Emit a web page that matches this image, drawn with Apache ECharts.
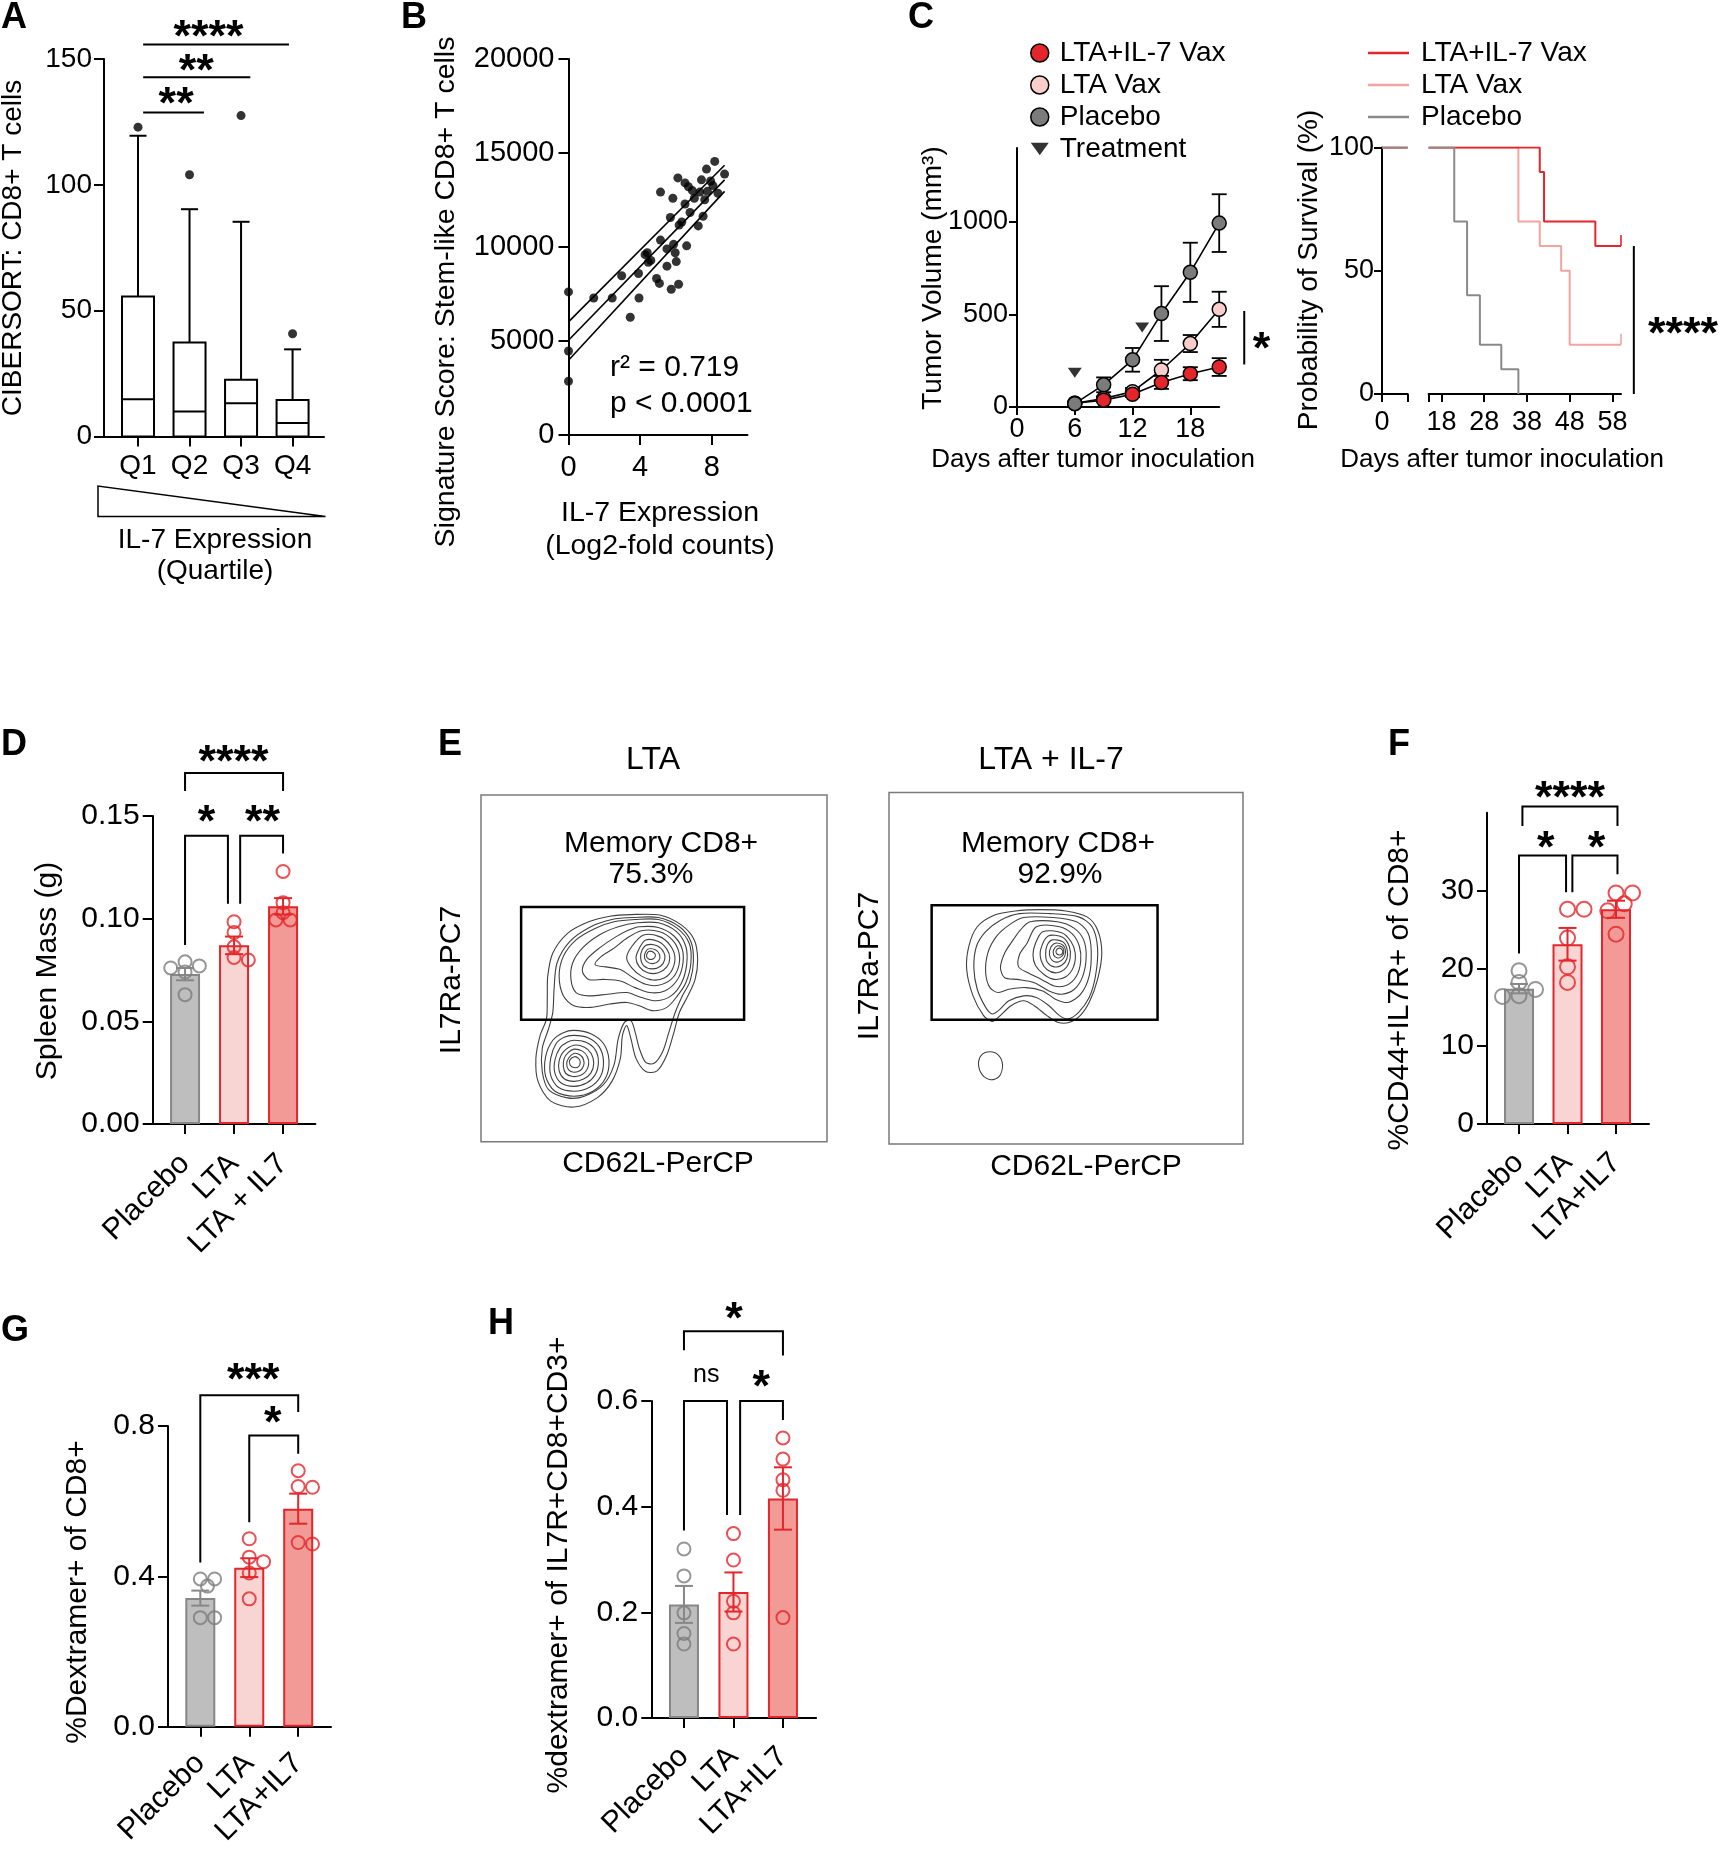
<!DOCTYPE html>
<html><head><meta charset="utf-8"><title>Figure</title>
<script src="https://cdn.jsdelivr.net/npm/echarts@6/dist/echarts.min.js"></script>
<style>html,body{margin:0;padding:0;background:#fff;}#chart{width:1729px;height:1849px;}</style>
</head><body><div id="chart"></div>
<script>
// ================= DATA =================
// ---- A: CIBERSORT CD8+ T cells by IL-7 quartile (box plots) ----
const quartileLabels = ['Q1','Q2','Q3','Q4'];
const boxMin = [0,0,0,0];
const boxLowerQ = [0,0,0,0];
const boxMedian = [14.8,9.9,13.2,5.3];
const boxUpperQ = [55.6,37.3,22.5,14.5];
const boxMax = [119.5,90.3,85.3,34.6];
const boxOutlier = [122.9,104,127.5,40.8];
const aSigLines = [[1.1,2.28,128.7],[1.1,3.18,142.7],[1.1,3.93,155.8]]; // x from, x to, y
const aSigText = ['**','**','****'];
const aSigTextPos = [[1.74,135.5],[2.13,148.5],[2.37,162.2]];

// ---- B: signature score vs IL-7 expression ----
const il7Expression = [0,0,0,1.41,2.44,2.97,3.45,3.91,3.94,4.28,4.40,4.46,4.60,4.92,5.08,5.14,5.14,5.50,5.50,5.69,5.74,5.83,5.87,5.96,6.02,6.11,6.15,6.18,6.33,6.51,6.51,6.60,6.70,6.79,6.92,7.03,7.25,7.34,7.43,7.52,7.61,7.71,7.76,7.94,8.07,8.17,8.35,8.72];
const stemScore = [7613,4470,2857,7286,7286,8470,6265,8592,7286,9592,9694,9184,9286,8327,8062,12919,10368,8980,9898,11572,7755,12593,10143,9694,9225,13674,8021,11164,11327,13409,12287,10062,13205,11837,13001,12593,11123,12919,13572,11633,12511,14144,12960,13511,13266,14552,12858,13878];
const fitX = [0,8.72];
const fitY = [5041,13572];
const ciUpperY = [6020,14350];
const ciLowerY = [3980,12960];
const bStats = ['r\u00b2 = 0.719','p < 0.0001'];

// ---- C: tumor growth and survival ----
const tumorDays = [6,9,12,15,18,21];
const volLtaIl7 = [20,37,69,133,180,216];
const semLtaIl7 = [0,10,15,35,35,48];
const volLta = [20,46,83,200,343,528];
const semLta = [0,10,20,55,46,95];
const volPlacebo = [18,120,255,505,728,994];
const semPlacebo = [0,40,64,148,160,156];
const treatmentDay = [6,13];
const treatmentMark = [185,430];
const survDaysLtaIl7 = [15,41,42,54,60];
const survLtaIl7 = [100,90,70,60,60];
const survDaysLta = [15,36,41,46,48,60];
const survLta = [100,70,60,50,20,20];
const survDaysPlacebo = [15,21,24,27,32,36];
const survPlacebo = [100,70,40,20,10,0];
const cSigLine = [23.6,230,519];   // x, y from, y to
const cSigStar = [25.4,357];
const sSigLine = [63,0,60];
const sSigStar = [74.5,27.6];

// ---- D: spleen mass ----
const groupLabelsD = ['Placebo','LTA','LTA + IL7'];
const spleenMean = [0.073,0.087,0.106];
const spleenSem = [0.003,0.0043,0.004];
const spleenPlacebo = [0.079,0.077,0.076,0.074,0.063];
const spleenLta = [0.0985,0.0933,0.0863,0.0811,0.0799];
const spleenLtaIl7 = [0.123,0.1078,0.1029,0.0994,0.0994];
const dBrackets = [[1,0.0872,1.875,0.1073,0.1404],[2.125,0.1073,3,0.1317,0.1404],[1,0.1622,3,0.1622,0.1709]];
const dStars = ['*','**','****'];
const dStarPos = [[1.44,0.1509],[2.58,0.1509],[1.99,0.1805]];

// ---- E: flow cytometry contours (arbitrary fluorescence units, IL7Ra axis increases downward in these units) ----
const ltaGate = [50,80,578,423];
const ltaIl7Gate = [1022,75,1557,423];
const ltaContours = [
 [[310,103],[380,105],[430,135],[460,180],[468,240],[462,300],[445,350],[425,400],[412,460],[395,530],[372,578],[345,580],[322,540],[310,480],[300,440],[290,470],[285,540],[265,610],[230,660],[175,688],[120,670],[90,610],[85,540],[95,470],[110,420],[112,350],[113,290],[125,220],[160,160],[210,125],[260,108]],
 [[315,112],[375,112],[425,140],[452,185],[458,245],[450,305],[432,350],[415,400],[400,460],[385,520],[365,555],[345,552],[330,510],[320,460],[310,425],[295,430],[280,480],[270,560],[245,620],[200,655],[160,660],[115,635],[100,580],[100,510],[115,450],[125,400],[128,330],[135,250],[165,185],[215,140],[265,118]],
 [[320,118],[375,118],[420,145],[448,190],[452,250],[440,310],[420,350],[395,385],[360,395],[330,380],[300,370],[260,375],[215,385],[175,380],[150,350],[140,290],[150,230],[180,180],[225,145],[270,125]],
 [[325,128],[375,128],[418,155],[440,200],[442,255],[430,310],[405,350],[370,365],[335,355],[300,340],[255,345],[210,350],[180,340],[168,300],[172,250],[195,205],[235,165],[280,140]],
 [[330,140],[375,142],[412,168],[432,210],[432,260],[418,305],[390,335],[355,340],[320,325],[285,305],[245,300],[210,300],[195,275],[205,240],[235,205],[275,170],[305,150]],
 [[335,152],[378,155],[408,180],[424,220],[422,265],[405,300],[375,318],[345,315],[315,295],[285,270],[250,262],[225,255],[240,230],[270,205],[300,175]],
 [[340,165],[378,170],[402,195],[414,230],[408,270],[390,295],[362,302],[335,290],[312,265],[300,235],[312,200]],
 [[345,180],[375,185],[395,208],[402,235],[395,262],[375,280],[350,280],[330,262],[322,235],[330,205]],
 [[348,195],[372,198],[388,218],[390,240],[380,260],[360,268],[340,258],[333,235],[336,212]],
 [[350,208],[368,210],[378,225],[376,243],[362,252],[347,245],[342,228]],
 [[352,215],[364,218],[368,228],[362,238],[352,238],[347,228]],
 [[175,455],[215,465],[245,495],[258,545],[250,600],[220,640],[175,655],[130,640],[108,595],[108,535],[125,485],[150,462]],
 [[175,470],[210,478],[235,505],[245,548],[238,595],[212,628],[175,640],[138,628],[120,592],[120,540],[133,495],[152,476]],
 [[175,485],[205,492],[226,515],[233,550],[226,588],[205,615],[175,625],[145,615],[130,585],[130,545],[142,508],[158,492]],
 [[175,500],[200,506],[216,525],[222,555],[215,585],[198,603],[175,610],[152,602],[140,578],[140,548],[150,520]],
 [[175,512],[195,518],[207,535],[210,558],[203,580],[190,592],[172,595],[156,586],[150,565],[152,540],[162,522]],
 [[175,525],[190,530],[198,545],[198,562],[190,577],[175,582],[162,574],[158,556],[163,538]],
 [[176,535],[186,540],[190,552],[186,565],[175,568],[166,560],[165,546]]
];
const ltaIl7Contours = [
 [[1220,92],[1280,88],[1340,92],[1390,110],[1415,150],[1425,220],[1415,300],[1395,370],[1370,415],[1345,432],[1320,430],[1295,410],[1265,380],[1240,365],[1210,380],[1180,415],[1165,428],[1145,410],[1120,350],[1105,270],[1110,200],[1130,140],[1170,105]],
 [[1230,100],[1300,100],[1370,110],[1402,140],[1415,205],[1410,290],[1395,355],[1370,400],[1345,420],[1325,410],[1300,380],[1270,355],[1240,350],[1205,365],[1180,395],[1165,405],[1150,385],[1130,330],[1122,265],[1128,200],[1150,155],[1185,120]],
 [[1240,112],[1310,112],[1365,125],[1392,158],[1400,215],[1395,290],[1375,345],[1345,370],[1315,360],[1285,335],[1245,325],[1205,330],[1180,340],[1160,325],[1150,280],[1155,220],[1175,170],[1205,135]],
 [[1255,125],[1320,125],[1360,145],[1382,180],[1388,230],[1380,290],[1360,330],[1330,345],[1300,335],[1265,310],[1225,300],[1195,295],[1185,265],[1195,220],[1215,180],[1232,150]],
 [[1270,140],[1325,140],[1355,162],[1372,200],[1375,245],[1365,290],[1342,318],[1312,320],[1282,300],[1250,280],[1228,262],[1230,225],[1248,190]],
 [[1285,155],[1330,158],[1352,185],[1362,220],[1358,262],[1340,292],[1312,300],[1288,285],[1268,258],[1262,225],[1268,190]],
 [[1298,168],[1332,172],[1348,200],[1350,235],[1340,265],[1318,280],[1295,270],[1282,245],[1280,210]],
 [[1308,180],[1333,186],[1343,210],[1342,238],[1330,257],[1312,262],[1296,248],[1292,222],[1296,195]],
 [[1315,190],[1333,196],[1339,215],[1335,235],[1322,247],[1308,243],[1301,225],[1304,203]],
 [[1320,198],[1332,203],[1335,218],[1330,230],[1320,235],[1311,226],[1311,210]],
 [[1324,205],[1331,210],[1332,220],[1326,226],[1318,222],[1317,212]],
 [[1160,520],[1180,530],[1190,560],[1182,595],[1162,605],[1142,590],[1133,558],[1140,530]]
];
const flowStats = ['Memory CD8+','75.3%','Memory CD8+','92.9%'];

// ---- F: %CD44+IL7R+ of CD8+ ----
const groupLabels = ['Placebo','LTA','LTA+IL7'];
const fMean = [17.4,23.1,27.6];
const fSem = [0.6,2.1,1.1];
const fPlacebo = [19.7,18.2,17.3,16.4,16.5];
const fLta = [27.6,27.6,23.9,20.2,18.2];
const fLtaIl7 = [29.7,29.7,28.3,27.4,24.4];
const fBrackets = [[1.07,38.3,3.03,38.3,40.8],[1,21.9,1.97,29.8,34.5],[2.1,29.8,3.03,32.1,34.5]];
const fStars = ['****','*','*'];
const fStarPos = [[2.05,43],[1.55,36.6],[2.6,36.6]];

// ---- G: %Dextramer+ of CD8+ ----
const gMean = [0.342,0.423,0.58];
const gSem = [0.02,0.025,0.04];
const gPlacebo = [0.393,0.393,0.374,0.29,0.29];
const gLta = [0.5,0.451,0.439,0.409,0.34];
const gLtaIl7 = [0.681,0.639,0.637,0.49,0.486];
const gBrackets = [[1,0.437,3,0.837,0.882],[2,0.544,3,0.726,0.775]];
const gStars = ['***','*'];
const gStarPos = [[2.08,0.944],[2.48,0.83]];

// ---- H: %dextramer+ of IL7R+CD8+CD3+ ----
const hMean = [0.215,0.2385,0.4155];
const hSem = [0.035,0.037,0.059];
const hPlacebo = [0.32,0.269,0.199,0.16,0.14];
const hLta = [0.349,0.299,0.221,0.199,0.14];
const hLtaIl7 = [0.53,0.49,0.451,0.431,0.19];
const hBrackets = [[1,0.696,3,0.686,0.732],[1,0.355,1.87,0.384,0.6],[2.135,0.384,3,0.564,0.6]];
const hStars = ['*','ns','*'];
const hStarPos = [[2.01,0.77],[1.45,0.649],[2.56,0.642]];

// ================= LAYOUT / STYLE =================
const FONT = '"Liberation Sans", Arial, Helvetica, sans-serif';
const RED = '#e4252b', PINK = '#f9cdca', GRAYM = '#7b7b7b';
const BAR_FILL = ['#bebebe','#f8d5d3','#f29b96'];
const BAR_STROKE = ['#878787','#e4252b','#e4252b'];
const SURV = {red:'#e4252b', pink:'#f5a3a0', gray:'#8a8a8a'};

const P = {
 A:{gi:0, grid:{left:104,top:59,width:220,height:377.4}, x:[0.34,4.61], y:[0,150]},
 B:{gi:1, grid:{left:568.5,top:59,width:179,height:376}, x:[0,10], y:[0,20000]},
 C:{gi:2, grid:{left:1017,top:148,width:202.2,height:259}, x:[0,21], y:[0,1400]},
 S1:{gi:3, grid:{left:1382,top:147.4,width:25.6,height:246.6}, x:[0,6], y:[0,100]},
 S2:{gi:4, grid:{left:1428.6,top:147.4,width:192.4,height:246.6}, x:[15,60], y:[0,100]},
 D:{gi:5, grid:{left:152.7,top:816,width:162.7,height:308}, x:[0.34,3.66], y:[0,0.15]},
 EL:{gi:6, grid:{left:481,top:795,width:346,height:346.7}, x:[-45,774.3], y:[-260.5,793.3]},
 ER:{gi:7, grid:{left:889,top:792.5,width:354,height:351.5}, x:[921,1759.4], y:[-268,800.3]},
 F:{gi:8, grid:{left:1487,top:812.8,width:162,height:311.2}, x:[0.34,3.68], y:[0,40]},
 G:{gi:9, grid:{left:168,top:1426,width:163,height:306.5}, x:[0.34,3.67], y:[0,0.8]},
 H:{gi:10, grid:{left:651.3,top:1401,width:164.8,height:317}, x:[0.34,3.67], y:[0,0.6]}
};
const order = ['A','B','C','S1','S2','D','EL','ER','F','G','H'];

function axis(p, range, o) {
  o = o || {};
  const ticks = o.ticks || [];
  return {
    type:'value', gridIndex:p.gi, min:range[0], max:range[1], inverse:!!o.inverse, show:o.show !== false,
    axisLine:{show:o.line !== false, onZero:false, lineStyle:{color:'#000', width:2}},
    axisTick:{show:ticks.length>0, customValues:o.tickValues || ticks, length:o.tl || 10, inside:false, lineStyle:{color:'#000', width:2}},
    axisLabel:{show:ticks.length>0, customValues:o.labelValues || ticks, formatter:o.fmt || (v=>String(v)), fontSize:o.fs || 30, fontFamily:FONT, color:'#000', margin:o.margin == null ? 12 : o.margin, rotate:o.rotate || 0, hideOverlap:false},
    splitLine:{show:false}
  };
}

const grids = order.map(k => Object.assign({}, P[k].grid, k==='EL'||k==='ER' ? {show:true, borderColor:'#7a7a7a', borderWidth:1.5, backgroundColor:'transparent'} : {}));
const catFmt = arr => (v => arr[Math.round(v)-1]);

const xAxes = [
  axis(P.A, P.A.x, {ticks:[1,2,3,4], fmt:catFmt(quartileLabels), fs:28, margin:16}),
  axis(P.B, P.B.x, {ticks:[0,4,8], fs:29, margin:18}),
  axis(P.C, P.C.x, {ticks:[0,6,12,18], fs:27, margin:9, tl:8}),
  axis(P.S1, P.S1.x, {ticks:[0], tickValues:[0,6], fs:27, margin:15, tl:8}),
  axis(P.S2, P.S2.x, {ticks:[18,28,38,48,58], tickValues:[15,18,28,38,48,58], fs:27, margin:15, tl:8}),
  axis(P.D, P.D.x, {ticks:[1,2,3], fmt:catFmt(groupLabelsD), fs:30, margin:35, rotate:45}),
  axis(P.EL, P.EL.x, {show:false}),
  axis(P.ER, P.ER.x, {show:false}),
  axis(P.F, P.F.x, {ticks:[1,2,3], fmt:catFmt(groupLabels), fs:30, margin:34, rotate:45}),
  axis(P.G, P.G.x, {ticks:[1,2,3], fmt:catFmt(groupLabels), fs:30, margin:32, rotate:45}),
  axis(P.H, P.H.x, {ticks:[1,2,3], fmt:catFmt(groupLabels), fs:30, margin:34, rotate:45})
];
const yAxes = [
  axis(P.A, P.A.y, {ticks:[0,50,100,150], fs:28, margin:12}),
  axis(P.B, P.B.y, {ticks:[0,5000,10000,15000,20000], fs:29, margin:14}),
  axis(P.C, P.C.y, {ticks:[0,500,1000], fs:27, margin:9, tl:8}),
  axis(P.S1, P.S1.y, {ticks:[0,50,100], fs:27, margin:8, tl:8}),
  axis(P.S2, P.S2.y, {show:false}),
  axis(P.D, P.D.y, {ticks:[0,0.05,0.1,0.15], fmt:v=>v.toFixed(2), fs:30, margin:13}),
  axis(P.EL, P.EL.y, {show:false, inverse:true}),
  axis(P.ER, P.ER.y, {show:false, inverse:true}),
  axis(P.F, P.F.y, {ticks:[0,10,20,30], fs:30, margin:13}),
  axis(P.G, P.G.y, {ticks:[0,0.4,0.8], fmt:v=>v.toFixed(1), fs:30, margin:13}),
  axis(P.H, P.H.y, {ticks:[0,0.2,0.4,0.6], fmt:v=>v.toFixed(1), fs:30, margin:13})
];

// ================= HELPERS =================
function ax(p){ return {xAxisIndex:p.gi, yAxisIndex:p.gi}; }
function starText(t, c, size){
  const star = t.indexOf('*') >= 0;
  const fs = star ? (size || 45) : 25;
  return {type:'text', x:c[0], y:c[1] + (star ? 0.22*fs : 0), style:{text:t, fontSize:fs, fontWeight:star?'bold':'normal', fontFamily:FONT, fill:'#000', align:'center', verticalAlign:'middle'}};
}
function starSeries(p, texts, pos){
  return Object.assign({type:'custom', silent:true, z:8, data:pos.map((q,i)=>[q[0],q[1],i]),
    renderItem(pp, api){ return starText(texts[api.value(2)], api.coord([api.value(0), api.value(1)])); }}, ax(p));
}
function bracketSeries(p, br){
  return Object.assign({type:'custom', silent:true, z:7, data:br,
    renderItem(pp, api){
      const a=api.coord([api.value(0),api.value(1)]), b=api.coord([api.value(0),api.value(4)]),
            c=api.coord([api.value(2),api.value(4)]), d=api.coord([api.value(2),api.value(3)]);
      return {type:'polyline', shape:{points:[a,b,c,d]}, style:{stroke:'#000', lineWidth:2, fill:'none'}};
    }}, ax(p));
}
function errorSeries(p, rows, colors, capHalf, lw, z){
  return Object.assign({type:'custom', silent:true, z:z||5, data:rows,
    renderItem(pp, api){
      const x=api.value(0), m=api.value(1), s=api.value(2), col=colors[api.value(3)];
      if (!(s > 0)) return null;
      const t=api.coord([x,m+s]), b=api.coord([x,m-s]);
      const st={stroke:col, lineWidth:lw||2};
      return {type:'group', children:[
        {type:'line', shape:{x1:t[0],y1:t[1],x2:b[0],y2:b[1]}, style:st},
        {type:'line', shape:{x1:t[0]-capHalf,y1:t[1],x2:t[0]+capHalf,y2:t[1]}, style:st},
        {type:'line', shape:{x1:b[0]-capHalf,y1:b[1],x2:b[0]+capHalf,y2:b[1]}, style:st}]};
    }}, ax(p));
}
function vlineSeries(p, line){
  return Object.assign({type:'custom', silent:true, z:7, data:[line],
    renderItem(pp, api){
      const a=api.coord([api.value(0),api.value(1)]), b=api.coord([api.value(0),api.value(2)]);
      return {type:'line', shape:{x1:a[0],y1:a[1],x2:b[0],y2:b[1]}, style:{stroke:'#000', lineWidth:2}};
    }}, ax(p));
}
// beeswarm placement (layout only): spreads points that would overlap too much
function swarm(p, values, center, diam){
  const pxX = p.grid.width/(p.x[1]-p.x[0]), pxY = p.grid.height/(p.y[1]-p.y[0]);
  const placed = [], out = [];
  const idx = values.map((v,i)=>i).sort((a,b)=>values[b]-values[a]);
  idx.forEach(i=>{
    const ypx = values[i]*pxY; let off = 0;
    for (let k=0;k<30;k++){
      const o = (k===0?0:(k%2?1:-1)*Math.ceil(k/2))*diam*0.55;
      if (placed.every(q=>Math.hypot(q[0]-o,q[1]-ypx) >= diam*0.75)) { off=o; break; }
    }
    placed.push([off,ypx]); out[i] = [center + off/pxX, values[i]];
  });
  return out;
}
function barPanel(p, means, sems, groups, brackets, stars, starPos, diam){
  const s = [];
  s.push(Object.assign({type:'bar', barWidth:30, z:2, silent:true,
    data:means.map((m,i)=>({value:[i+1,m], itemStyle:{color:BAR_FILL[i], borderColor:BAR_STROKE[i], borderWidth:2}}))}, ax(p)));
  const pts = [];
  groups.forEach((g,gi)=>{ swarm(p, g, gi+1, diam).forEach(q=>pts.push({value:q, itemStyle:{color:'rgba(0,0,0,0)', borderColor:gi===0?'#7d7d7d':RED, borderWidth:2}})); });
  s.push(Object.assign({type:'scatter', symbol:'circle', symbolSize:diam, z:4, silent:true, data:pts}, ax(p)));
  s.push(errorSeries(p, means.map((m,i)=>[i+1,m,sems[i],i]), BAR_STROKE, 9, 2, 5));
  s.push(bracketSeries(p, brackets));
  s.push(starSeries(p, stars, starPos));
  return s;
}
function contourSeries(p, rings){
  return Object.assign({type:'custom', silent:true, z:3, data:rings.map((r,i)=>[r[0][0], r[0][1], i]),
    renderItem(pp, api){
      const pts = rings[api.value(2)].map(q=>api.coord(q));
      return {type:'polygon', shape:{points:pts, smooth:0.3}, style:{fill:'none', stroke:'#404040', lineWidth:1.1}};
    }}, ax(p));
}
function gateSeries(p, gate){
  return Object.assign({type:'custom', silent:true, z:4, data:[gate],
    renderItem(pp, api){
      const a=api.coord([api.value(0),api.value(1)]), b=api.coord([api.value(2),api.value(3)]);
      return {type:'rect', shape:{x:Math.min(a[0],b[0]), y:Math.min(a[1],b[1]), width:Math.abs(b[0]-a[0]), height:Math.abs(b[1]-a[1])}, style:{fill:'none', stroke:'#000', lineWidth:2.5}};
    }}, ax(p));
}

// ================= SERIES =================
const series = [];
// A: boxes
series.push(Object.assign({type:'custom', silent:true, z:3,
  data:quartileLabels.map((q,i)=>[i+1, boxMin[i], boxLowerQ[i], boxMedian[i], boxUpperQ[i], boxMax[i]]),
  renderItem(pp, api){
    const x=api.value(0); const c=v=>api.coord([x,v]);
    const pmn=c(api.value(1)), pq1=c(api.value(2)), pmd=c(api.value(3)), pq3=c(api.value(4)), pmx=c(api.value(5));
    const hw=16, cw=8.5, st={stroke:'#000', lineWidth:2};
    return {type:'group', children:[
      {type:'line', shape:{x1:pq3[0],y1:pq3[1],x2:pmx[0],y2:pmx[1]}, style:st},
      {type:'line', shape:{x1:pmx[0]-cw,y1:pmx[1],x2:pmx[0]+cw,y2:pmx[1]}, style:st},
      {type:'line', shape:{x1:pq1[0],y1:pq1[1],x2:pmn[0],y2:pmn[1]}, style:st},
      {type:'rect', shape:{x:pq3[0]-hw, y:pq3[1], width:2*hw, height:pq1[1]-pq3[1]}, style:{fill:'#fff', stroke:'#000', lineWidth:2}},
      {type:'line', shape:{x1:pmd[0]-hw,y1:pmd[1],x2:pmd[0]+hw,y2:pmd[1]}, style:st}]};
  }}, ax(P.A)));
series.push(Object.assign({type:'scatter', symbol:'circle', symbolSize:9, silent:true, itemStyle:{color:'#000'},
  data:boxOutlier.map((v,i)=>[i+1,v])}, ax(P.A)));
series.push(Object.assign({type:'custom', silent:true, z:7, data:aSigLines,
  renderItem(pp, api){ const a=api.coord([api.value(0),api.value(2)]), b=api.coord([api.value(1),api.value(2)]);
    return {type:'line', shape:{x1:a[0],y1:a[1],x2:b[0],y2:b[1]}, style:{stroke:'#000', lineWidth:2}}; }}, ax(P.A)));
series.push(starSeries(P.A, aSigText, aSigTextPos));

// B
series.push(Object.assign({type:'scatter', symbol:'circle', symbolSize:9, silent:true, itemStyle:{color:'#000'},
  data:il7Expression.map((x,i)=>[x, stemScore[i]])}, ax(P.B)));
[fitY, ciUpperY, ciLowerY].forEach(ys=>{
  series.push(Object.assign({type:'line', symbol:'none', silent:true, lineStyle:{color:'#000', width:1.6},
    data:fitX.map((x,i)=>[x, ys[i]])}, ax(P.B)));
});

// C left: tumor volume
series.push(errorSeries(P.C, [].concat(
  tumorDays.map((d,i)=>[d, volLta[i], semLta[i], 0]),
  tumorDays.map((d,i)=>[d, volLtaIl7[i], semLtaIl7[i], 0]),
  tumorDays.map((d,i)=>[d, volPlacebo[i], semPlacebo[i], 0])), ['#000'], 7.5, 1.8, 3));
const growth = [['LTA Vax', volLta, PINK, 4], ['LTA+IL-7 Vax', volLtaIl7, RED, 5], ['Placebo', volPlacebo, GRAYM, 6]];
growth.forEach(g=>{
  series.push(Object.assign({type:'line', name:g[0], symbol:'circle', symbolSize:14, z:g[3], silent:true,
    itemStyle:{color:g[2], borderColor:'#000', borderWidth:1.5}, lineStyle:{color:'#000', width:1.6},
    data:tumorDays.map((d,i)=>[d, g[1][i]])}, ax(P.C)));
});
series.push(Object.assign({type:'scatter', name:'Treatment', symbol:'triangle', symbolRotate:180, symbolSize:[14,10], silent:true, z:6,
  itemStyle:{color:'#000'}, data:treatmentDay.map((d,i)=>[d, treatmentMark[i]])}, ax(P.C)));
series.push(vlineSeries(P.C, cSigLine));
series.push(starSeries(P.C, ['*'], [cSigStar]));

// C right: survival (broken x axis)
const surv = [['S LTA Vax', survDaysLta, survLta, SURV.pink, 3], ['S LTA+IL-7 Vax', survDaysLtaIl7, survLtaIl7, SURV.red, 4], ['S Placebo', survDaysPlacebo, survPlacebo, SURV.gray, 5]];
surv.forEach(s=>{
  series.push(Object.assign({type:'line', symbol:'none', silent:true, z:s[4], lineStyle:{color:s[3], width:2},
    data:[[P.S1.x[0], s[2][0]],[P.S1.x[1], s[2][0]]]}, ax(P.S1)));
  series.push(Object.assign({type:'line', name:s[0], step:'end', symbol:'none', silent:true, z:s[4], color:s[3],
    itemStyle:{color:s[3]}, lineStyle:{color:s[3], width:2},
    data:s[1].map((d,i)=>[d, s[2][i]])}, ax(P.S2)));
});
series.push(Object.assign({type:'scatter', symbol:'rect', symbolSize:[2,11], symbolOffset:[0,-5.5], silent:true, z:6,
  data:[{value:[survDaysLtaIl7[survDaysLtaIl7.length-1], survLtaIl7[survLtaIl7.length-1]], itemStyle:{color:SURV.red}},
        {value:[survDaysLta[survDaysLta.length-1], survLta[survLta.length-1]], itemStyle:{color:SURV.pink}}]}, ax(P.S2)));
series.push(vlineSeries(P.S2, sSigLine));
series.push(starSeries(P.S2, ['****'], [sSigStar]));

// D
barPanel(P.D, spleenMean, spleenSem, [spleenPlacebo, spleenLta, spleenLtaIl7], dBrackets, dStars, dStarPos, 13).forEach(s=>series.push(s));
// E
series.push(contourSeries(P.EL, ltaContours));
series.push(gateSeries(P.EL, ltaGate));
series.push(contourSeries(P.ER, ltaIl7Contours));
series.push(gateSeries(P.ER, ltaIl7Gate));
// F, G, H
barPanel(P.F, fMean, fSem, [fPlacebo, fLta, fLtaIl7], fBrackets, fStars, fStarPos, 15).forEach(s=>series.push(s));
barPanel(P.G, gMean, gSem, [gPlacebo, gLta, gLtaIl7], gBrackets, gStars, gStarPos, 13).forEach(s=>series.push(s));
barPanel(P.H, hMean, hSem, [hPlacebo, hLta, hLtaIl7], hBrackets, hStars, hStarPos, 13).forEach(s=>series.push(s));

// ================= TEXT / DECORATION =================
function T(text, x, y, fs, o){
  o = o || {};
  return {type:'text', x:x, y:y, rotation:o.rot ? Math.PI/2 : 0, silent:true,
    style:{text:text, fontSize:fs, fontFamily:FONT, fontWeight:o.bold?'bold':'normal', fill:'#000', align:o.align||'center', verticalAlign:'middle'}};
}
const graphic = [
  T('A', 14, 18, 36, {bold:true}), T('B', 414, 18, 36, {bold:true}), T('C', 921, 18, 36, {bold:true}),
  T('D', 14, 745, 36, {bold:true}), T('E', 450, 745, 36, {bold:true}), T('F', 1399, 745, 36, {bold:true}),
  T('G', 15, 1331, 36, {bold:true}), T('H', 501, 1324, 36, {bold:true}),
  T('CIBERSORT: CD8+ T cells', 13, 248, 28, {rot:true}),
  {type:'polygon', silent:true, shape:{points:[[98,486],[98,516.6],[325.5,516.6]]}, style:{fill:'#fff', stroke:'#000', lineWidth:1.5}},
  T('IL-7 Expression', 215, 540, 28), T('(Quartile)', 215, 571, 28),
  T('Signature Score: Stem-like CD8+ T cells', 446, 292, 28.5, {rot:true}),
  T('IL-7 Expression', 660, 513, 28.5), T('(Log2-fold counts)', 660, 546, 28.5),
  T(bStats[0], 610, 368, 30, {align:'left'}), T(bStats[1], 610, 404, 30, {align:'left'}),
  T('Tumor Volume (mm\u00b3)', 933, 278, 28, {rot:true}),
  T('Probability of Survival (%)', 1309, 270, 28, {rot:true}),
  T('Days after tumor inoculation', 1093, 460, 26), T('Days after tumor inoculation', 1502, 460, 26),
  T('Spleen Mass (g)', 48, 971, 30, {rot:true}),
  T('LTA', 653, 760, 32), T('LTA + IL-7', 1051, 760, 32),
  T(flowStats[0], 661, 844, 30), T(flowStats[1], 651, 875, 30),
  T(flowStats[2], 1058, 844, 30), T(flowStats[3], 1060, 875, 30),
  T('CD62L-PerCP', 658, 1164, 30), T('CD62L-PerCP', 1086, 1167, 30),
  T('IL7Ra-PC7', 452, 980, 30, {rot:true}), T('IL7Ra-PC7', 870, 966, 30, {rot:true}),
  T('%CD44+IL7R+ of CD8+', 1400, 990, 30, {rot:true}),
  T('%Dextramer+ of CD8+', 78, 1592, 30, {rot:true}),
  T('%dextramer+ of IL7R+CD8+CD3+', 559, 1565, 30, {rot:true})
];

const legendText = {fontSize:28, fontFamily:FONT, color:'#000'};
const option = {
  animation:false,
  backgroundColor:'#fff',
  grid:grids, xAxis:xAxes, yAxis:yAxes, series:series, graphic:graphic,
  legend:[
    {left:1025, top:34, orient:'vertical', itemGap:4, itemWidth:18, itemHeight:18, selectedMode:false,
     textStyle:Object.assign({padding:[0,0,0,6]}, legendText),
     data:[{name:'LTA+IL-7 Vax', icon:'circle', itemStyle:{color:RED, borderColor:'#000', borderWidth:1.5}},
           {name:'LTA Vax', icon:'circle', itemStyle:{color:PINK, borderColor:'#000', borderWidth:1.5}},
           {name:'Placebo', icon:'circle', itemStyle:{color:GRAYM, borderColor:'#000', borderWidth:1.5}},
           {name:'Treatment', icon:'path://M0,0L10,0L5,7Z', itemStyle:{color:'#000', borderWidth:0}}]},
    {left:1363, top:34, orient:'vertical', itemGap:4, itemWidth:41, itemHeight:18, selectedMode:false,
     textStyle:Object.assign({padding:[0,0,0,7]}, legendText),
     formatter:n=>n.replace(/^S /,''),
     data:[{name:'S LTA+IL-7 Vax', icon:'path://M0,0H40V2.5H0Z', itemStyle:{color:SURV.red, borderWidth:0}},
           {name:'S LTA Vax', icon:'path://M0,0H40V2.5H0Z', itemStyle:{color:SURV.pink, borderWidth:0}},
           {name:'S Placebo', icon:'path://M0,0H40V2.5H0Z', itemStyle:{color:SURV.gray, borderWidth:0}}]}
  ]
};
const chart = echarts.init(document.getElementById('chart'), null, {renderer:'canvas', width:1729, height:1849});
chart.setOption(option);
</script></body></html>
